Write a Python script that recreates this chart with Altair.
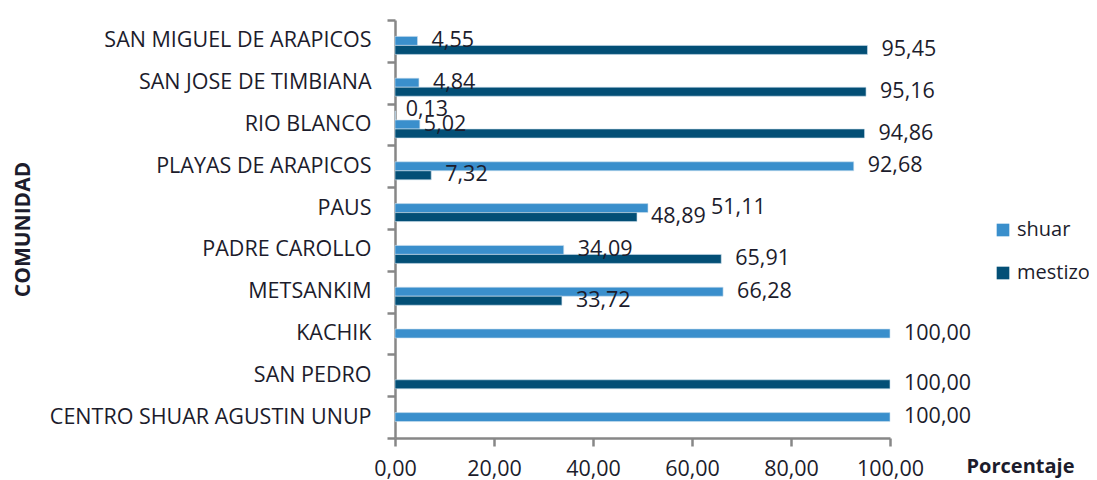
import altair as alt
import pandas as pd

categorias = [
    "SAN MIGUEL DE ARAPICOS",
    "SAN JOSE DE TIMBIANA",
    "RIO BLANCO",
    "PLAYAS DE ARAPICOS",
    "PAUS",
    "PADRE CAROLLO",
    "METSANKIM",
    "KACHIK",
    "SAN PEDRO",
    "CENTRO SHUAR AGUSTIN UNUP",
]
shuar = [4.55, 4.84, 5.02, 92.68, 51.11, 34.09, 66.28, 100.00, None, 100.00]
mestizo = [95.45, 95.16, 94.86, 7.32, 48.89, 65.91, 33.72, None, 100.00, None]
otro = [None, None, 0.13, None, None, None, None, None, None, None]
series_orden = ["otro", "shuar", "mestizo"]

rows = []
for i, c in enumerate(categorias):
    for s, vals in (("otro", otro), ("shuar", shuar), ("mestizo", mestizo)):
        v = vals[i]
        if v is not None:
            rows.append({"comunidad": c, "serie": s, "valor": v})
df = pd.DataFrame(rows)

FONT = "Open Sans"
TXT = "#1c1c2c"
GRAY = "#878787"

color_scale = alt.Scale(domain=["shuar", "mestizo", "otro"],
                        range=["#3A8FCC", "#034F76", "#7FA7C9"])

y_enc = alt.Y(
    "comunidad:N",
    sort=categorias,
    scale=alt.Scale(paddingInner=0, paddingOuter=0),
    axis=alt.Axis(
        title="COMUNIDAD", titleFont=FONT, titleFontSize=21, titleFontWeight="bold",
        titleColor=TXT, titleX=-372, titleY=209, titleAngle=-90,
        titleAlign="center", titleBaseline="middle",
        labelFont=FONT, labelFontSize=21.5, labelColor=TXT, labelPadding=16,
        labelLimit=0,
        tickBand="extent", tickSize=8, tickColor=GRAY, tickWidth=2.5,
        domainColor=GRAY, domainWidth=2.5, grid=False,
    ),
)
yoff_enc = alt.YOffset(
    "serie:N",
    sort=series_orden,
    scale=alt.Scale(domain=series_orden, paddingInner=0, paddingOuter=0.82),
)
x_enc = alt.X(
    "valor:Q",
    scale=alt.Scale(domain=[0, 100], nice=False),
    axis=alt.Axis(
        values=[0, 20, 40, 60, 80, 100],
        labelExpr="replace(format(datum.value, '.2f'), '.', ',')",
        title="Porcentaje", titleFont=FONT, titleFontSize=20, titleFontWeight="bold",
        titleColor=TXT, titleX=625, titleY=28, titleAlign="center",
        titleBaseline="middle",
        labelFont=FONT, labelFontSize=21.5, labelColor=TXT, labelPadding=12,
        labelFlush=False, labelOverlap=False,
        tickSize=8, tickColor=GRAY, tickWidth=2.5,
        domainColor=GRAY, domainWidth=2.5, grid=False,
    ),
)

base = alt.Chart(df).transform_calculate(
    etiqueta="replace(format(datum.valor, '.2f'), '.', ',')",
    clave="datum.comunidad + '|' + datum.serie",
)

bars = base.mark_bar(stroke="#cfe0ee", strokeWidth=0.6).encode(
    x=x_enc,
    y=y_enc,
    yOffset=yoff_enc,
    color=alt.Color(
        "serie:N",
        scale=color_scale,
        legend=alt.Legend(
            values=["shuar", "mestizo"], orient="none", legendX=598, legendY=200,
            direction="vertical", title=None, symbolType="square", symbolSize=160,
            symbolStrokeWidth=0, labelFont=FONT, labelFontSize=20, labelColor=TXT,
            labelOffset=4, rowPadding=23, padding=0, labelLimit=0,
        ),
    ),
)

text_enc = dict(
    x=alt.X("valor:Q"),
    y=alt.Y("comunidad:N", sort=categorias),
    yOffset=alt.YOffset("serie:N", sort=series_orden),
    text="etiqueta:N",
)

especiales = ["PAUS|shuar", "RIO BLANCO|otro", "RIO BLANCO|shuar"]
cond_normal = " && ".join([f"datum.clave != '{k}'" for k in especiales])

txt_style = dict(align="left", baseline="middle", font=FONT, fontSize=21.5, color=TXT)

labels = base.mark_text(dx=14, **txt_style).encode(**text_enc).transform_filter(cond_normal)
lab_paus = base.mark_text(dx=63, **txt_style).encode(**text_enc).transform_filter(
    "datum.clave == 'PAUS|shuar'")
lab_otro = base.mark_text(dx=10, dy=-5, **txt_style).encode(**text_enc).transform_filter(
    "datum.clave == 'RIO BLANCO|otro'")
lab_rio = base.mark_text(dx=4, **txt_style).encode(**text_enc).transform_filter(
    "datum.clave == 'RIO BLANCO|shuar'")

chart = alt.layer(bars, labels, lab_paus, lab_otro, lab_rio).properties(
    width=495,
    height=418,
    autosize=alt.AutoSizeParams(type="none"),
    padding={"left": 387, "top": 12, "right": 199, "bottom": 42},
).configure(font=FONT).configure_view(stroke=None)

chart.save("out.html", embed_options={"renderer": "svg", "actions": False})
